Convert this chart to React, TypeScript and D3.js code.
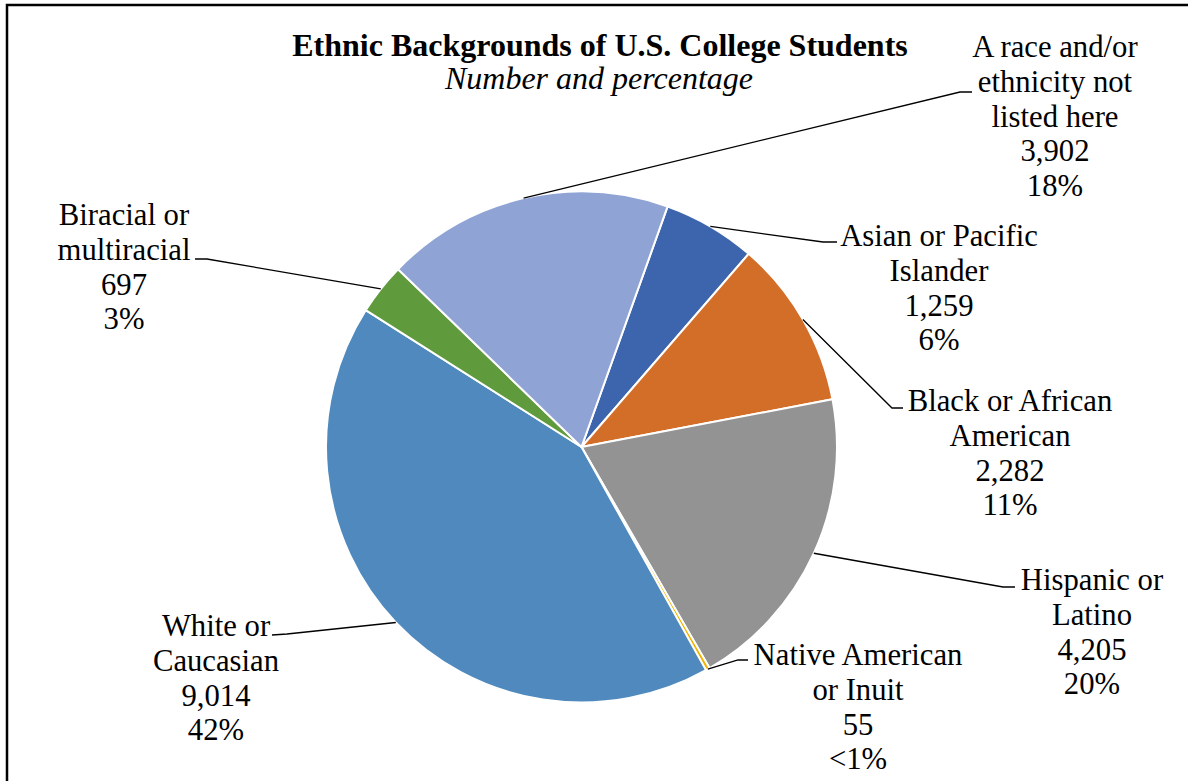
import React from "react";
import * as d3 from "d3";

const categories = [
  "Asian or Pacific Islander",
  "Black or African American",
  "Hispanic or Latino",
  "Native American or Inuit",
  "White or Caucasian",
  "Biracial or multiracial",
  "A race and/or ethnicity not listed here",
];
const values = [1259, 2282, 4205, 55, 9014, 697, 3902];
const percentLabels = ["6%", "11%", "20%", "<1%", "42%", "3%", "18%"];
const labelLines = [
  ["Asian or Pacific", "Islander"],
  ["Black or African", "American"],
  ["Hispanic or", "Latino"],
  ["Native American", "or Inuit"],
  ["White or", "Caucasian"],
  ["Biracial or", "multiracial"],
  ["A race and/or", "ethnicity not", "listed here"],
];
const colors = ["#3C65AD", "#D36E29", "#939393", "#F0B400", "#4F89BD", "#5F9B3C", "#8FA3D4"];

// layout: label center x, first baseline, leader elbow (x,y) and end (x,y)
const labelLayout = [
  { cx: 939, y: 246, elbow: [823, 242], end: [837, 242] },
  { cx: 1010, y: 411, elbow: [892, 408], end: [903, 408] },
  { cx: 1092, y: 590, elbow: [1003, 587], end: [1015, 587] },
  { cx: 858, y: 665, elbow: [738, 660], end: [748, 660] },
  { cx: 216, y: 636, elbow: [287, 634], end: [272, 635] },
  { cx: 124, y: 225, elbow: [207, 259], end: [195, 259] },
  { cx: 1055, y: 57, elbow: [960, 92], end: [972, 92] },
];

const W = 1188;
const H = 781;
const cx = 581.5;
const cy = 447;
const R = 255.5;
const startDeg = 19.7;
const lineH = 34.8;
const FF = "Liberation Serif";
const fs = 30.7;
const titleFs = 32;

export default function App() {
  const start = (startDeg * Math.PI) / 180;
  const pie = d3
    .pie<number>()
    .sort(null)
    .startAngle(start)
    .endAngle(start + 2 * Math.PI);
  const arcs = pie(values);
  const arc = d3.arc<d3.PieArcDatum<number>>().innerRadius(0).outerRadius(R);
  const fmt = d3.format(",");

  return (
    <svg
      width={W}
      height={H}
      fontFamily={FF}
      style={{ position: "absolute", left: 0, top: 0, background: "#fff" }}
    >
      <rect x={7} y={5} width={W + 20} height={H + 20} fill="#fff" stroke="#000" strokeWidth={2.5} />
      <text x={600} y={56} textAnchor="middle" fontFamily={FF} fontSize={titleFs} fontWeight="bold">
        Ethnic Backgrounds of U.S. College Students
      </text>
      <text x={599} y={89} textAnchor="middle" fontFamily={FF} fontSize={titleFs} fontStyle="italic">
        Number and percentage
      </text>
      <g transform={`translate(${cx},${cy})`}>
        {arcs.map((a, i) => (
          <path key={categories[i]} d={arc(a) || ""} fill={colors[i]} stroke="#fff" strokeWidth={2} />
        ))}
      </g>
      {arcs.map((a, i) => {
        const mid = (a.startAngle + a.endAngle) / 2;
        const px = cx + R * Math.sin(mid);
        const py = cy - R * Math.cos(mid);
        const L = labelLayout[i];
        return (
          <polyline
            key={"l" + i}
            points={`${px},${py} ${L.elbow[0]},${L.elbow[1]} ${L.end[0]},${L.end[1]}`}
            fill="none"
            stroke="#000"
            strokeWidth={1.3}
          />
        );
      })}
      {labelLines.map((lines, i) => {
        const L = labelLayout[i];
        const all = [...lines, fmt(values[i]), percentLabels[i]];
        return all.map((s, j) => (
          <text
            key={"t" + i + "_" + j}
            x={L.cx}
            y={L.y + j * lineH}
            fontFamily={FF}
            fontSize={fs}
            textAnchor="middle"
            fill="#000"
          >
            {s}
          </text>
        ));
      })}
    </svg>
  );
}
